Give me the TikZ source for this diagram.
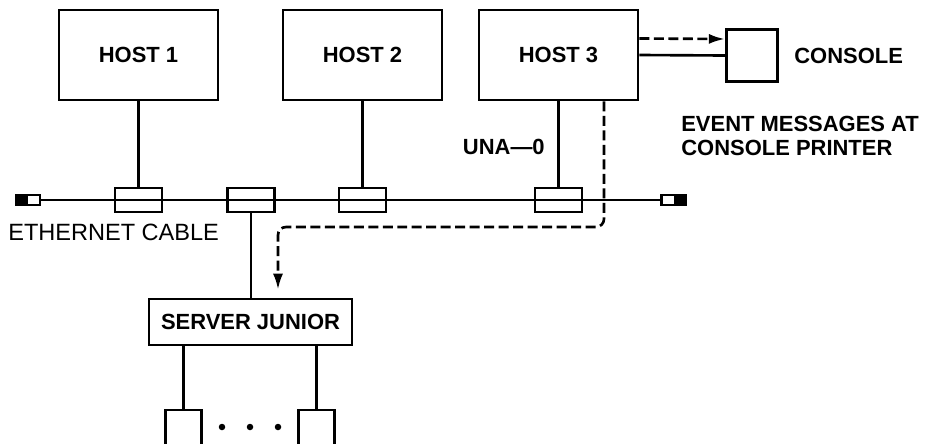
\documentclass[tikz,border=0pt]{standalone}
\usepackage{fontspec}
\setmainfont{Liberation Sans}
\usetikzlibrary{arrows.meta,positioning}

\begin{document}
\begin{tikzpicture}[x=0.02cm,y=-0.02cm,line width=1.5pt,
font=\fontsize{12.5pt}{13.7pt}\selectfont\bfseries,
host/.style={draw,minimum width=3.18cm,minimum height=1.8cm,inner sep=0pt},
tap/.style={draw,minimum width=0.94cm,minimum height=0.48cm,inner sep=0pt},
termbox/.style={draw,minimum width=0.48cm,minimum height=0.2cm,inner sep=0pt},
dev/.style={draw,minimum width=0.72cm,minimum height=0.72cm,inner sep=0pt},
dotty/.style={circle,fill,minimum size=0.13cm,inner sep=0pt},
msg/.style={dash pattern=on 0.2cm off 0.09cm,-{Latex[length=0.32cm,width=0.2cm]}},
lbl/.style={inner sep=0pt}]
\useasboundingbox (0,0) rectangle (925,443);

\node[host](host1)at(138.5,55){HOST 1};
\node[host](host2)at(362.5,55){HOST 2};
\node[host](host3)at(558.5,55){HOST 3};
\node[draw,minimum size=1.03cm,inner sep=0pt](console)at(752,55.5){};
\node[lbl,right=0.28cm of console]{CONSOLE};
\node[lbl,anchor=north west,align=left](evt)at(680,115){EVENT MESSAGES AT\\CONSOLE PRINTER};

\node[termbox](termL)at(28,200){};
\node[termbox](termR)at(673.5,200){};
\fill(termL.south west)rectangle(termL.north);
\fill(termR.south)rectangle(termR.north east);
\draw(termL.east)--(termR.west);
\foreach \xx/\nn in {138.5/1,251/2,362.5/3,558.5/4}{
 \node[tap](tap\nn)at(\xx,200){};
}
\node[lbl,anchor=west,font=\fontsize{13.4pt}{15pt}\selectfont](cable)at(7,232){ETHERNET CABLE};
\node[lbl,anchor=east](una)at(546,147){UNA---0};

\draw(host1.south)--(tap1.north);
\draw(host2.south)--(tap3.north);
\draw(host3.south)--(tap4.north);
\draw(host3.east)--(console.west);
\draw[msg]([yshift=0.33cm]host3.east)--([yshift=0.33cm]console.west);

\node[draw,minimum width=4.06cm,minimum height=0.92cm,inner sep=0pt](srv)at(250.5,322){SERVER JUNIOR};
\draw(tap2.south)--(tap2.south|-srv.north);
\coordinate(turn)at(278,227);
\draw[msg,rounded corners=0.16cm]([xshift=0.91cm]host3.south)|-(turn)--(turn|-srv.north)[shorten >=0.16cm];

\node[dev](dev1)at(183.5,428){};
\node[dev](dev2)at(316.5,428){};
\draw(dev1.north|-srv.south)--(dev1.north);
\draw(dev2.north|-srv.south)--(dev2.north);
\foreach \xx/\nn in {222/1,250/2,278/3}{
 \node[dotty](dot\nn)at(\xx,427){};
}
\end{tikzpicture}
\end{document}
